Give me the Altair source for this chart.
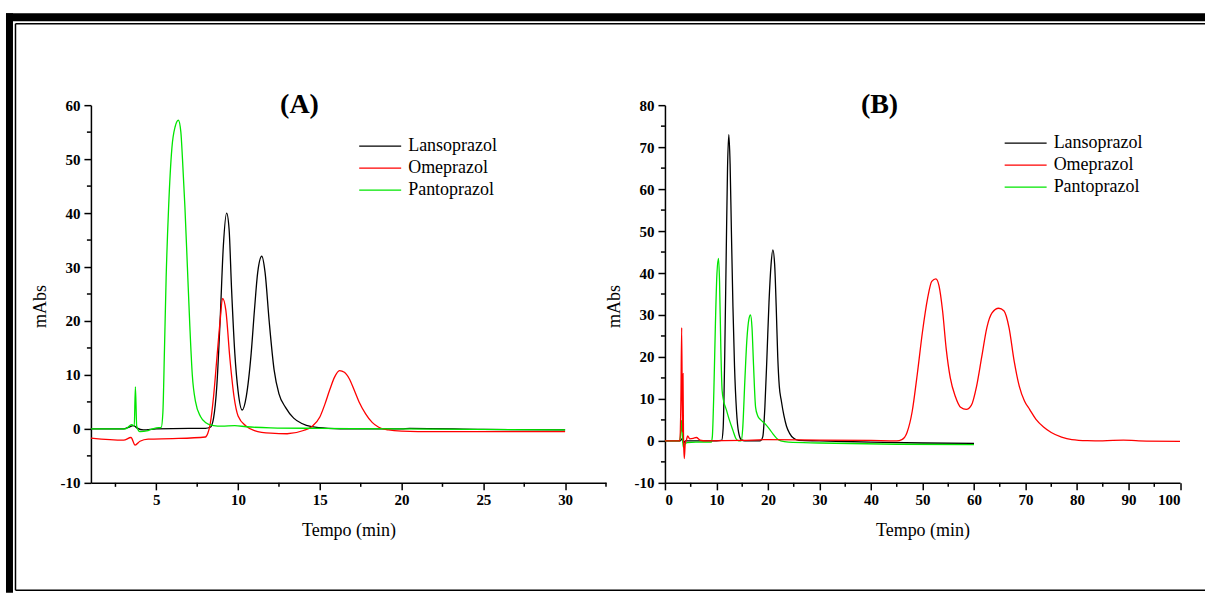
import altair as alt
import pandas as pd

SERIES = ["Lansoprazol", "Omeprazol", "Pantoprazol"]
COLORS = ["#000000", "#ff0000", "#00e600"]

# ---------------- Panel A (0-32.5 min) ----------------
A_lanso_t = [1, 3, 3.3, 3.6, 3.8, 4.2, 5, 7, 8, 8.3, 8.5, 8.7, 8.9, 9.1, 9.3, 9.45, 9.6, 9.8, 10.0, 10.25,
             10.5, 10.8, 11.0, 11.2, 11.45, 11.65, 11.9, 12.2, 12.5, 12.9, 13.4, 13.9, 14.5, 15.5, 17, 20, 20.5, 25, 30]
A_lanso_v = [0, 0, 0.3, 0.6, 0.2, -0.2, 0, 0.1, 0.1, 0.3, 2, 8, 20, 34, 40, 37, 26, 14, 7, 3.5,
             6, 14, 22, 29, 32, 29, 20, 11, 6.5, 4, 2, 1, 0.4, 0.1, 0, 0, 0.1, -0.1, -0.2]

A_ome_t = [1, 3, 3.45, 3.7, 4.0, 4.5, 6, 8.0, 8.15, 8.3, 8.5, 8.7, 8.9, 9.05, 9.25, 9.5, 9.75, 10.0, 10.5, 11, 12, 13,
           14.0, 14.5, 15.0, 15.3, 15.6, 15.9, 16.2, 16.5, 16.8, 17.1, 17.4, 17.8, 18.2, 18.6, 19.2, 20, 22, 30]
A_ome_v = [-1.7, -2.1, -1.6, -3.0, -2.3, -1.9, -1.8, -1.5, -0.8, 1, 6, 13, 20, 24.2, 22, 13, 6, 2.4, 0.5, -0.3, -0.8, -0.9,
           -0.3, 0.4, 2.2, 4.5, 7.2, 9.6, 10.8, 10.5, 9.3, 7.2, 5, 2.8, 1.2, 0.3, -0.2, -0.4, -0.5, -0.5]

A_panto_t = [1, 3.1, 3.5, 3.65, 3.72, 3.8, 4.0, 4.5, 5, 5.3, 5.4, 5.5, 5.6, 5.75, 5.95, 6.15, 6.35, 6.5, 6.6, 6.75,
             6.9, 7.05, 7.2, 7.4, 7.7, 8.0, 8.5, 9, 9.8, 10.5, 12, 15, 20, 30]
A_panto_v = [0, 0, 0.8, 0.5, 7.8, 0.5, -0.5, -0.3, 0.2, 0.3, 3, 15, 28, 41, 52, 56, 57.2, 55, 50, 41,
             30, 19, 10, 5, 2.3, 1.2, 0.6, 0.5, 0.6, 0.4, 0.2, 0.1, 0, -0.2]

# ---------------- Panel B (0-100 min) ----------------
B_lanso_t = [0, 3, 3.3, 3.6, 4, 10, 11, 11.3, 11.6, 11.9, 12.15, 12.4, 12.65, 12.9, 13.2, 13.5, 13.9, 14.3, 14.8, 15.5,
             18.5, 19, 19.4, 19.8, 20.2, 20.6, 20.95, 21.3, 21.6, 21.9, 22.2, 22.6, 23.1, 23.6, 24.2, 25, 26, 30, 40, 50, 60]
B_lanso_v = [0, 0, 0.5, -0.5, 0, 0, 0.1, 3, 20, 45, 65, 73, 66, 50, 32, 18, 7, 2, 0.3, 0,
             0, 1, 8, 20, 33, 42, 45.5, 42, 32, 20, 13, 9.5, 6, 3.5, 1.8, 0.6, 0.1, 0, -0.3, -0.5, -0.6]

B_panto_t = [0, 2.8, 3.0, 3.2, 3.35, 3.55, 3.8, 4.3, 6, 9, 9.2, 9.5, 9.8, 10.1, 10.4, 10.6, 10.85, 11.1, 11.4, 11.9,
             12.5, 13.2, 13.8, 14.3, 14.8, 15.1, 15.5, 15.9, 16.3, 16.6, 16.9, 17.2, 17.6, 18.0, 18.6, 19.5, 20.3,
             21, 21.7, 22.5, 24, 30, 45, 60]
B_panto_v = [0, 0, 1, 4.9, 2, -1.5, -0.8, -0.4, -0.3, -0.3, 1, 12, 28, 40, 43.5, 38, 22, 12, 9.5, 7.5,
             5, 2.5, 0.5, 0, 0, 3, 14, 24, 29, 30, 27, 18, 8, 6, 5, 4, 2.8,
             1.6, 0.6, 0, -0.3, -0.5, -0.8, -0.9]

B_ome_t = [0, 2.9, 3.1, 3.25, 3.4, 3.5, 3.6, 3.75, 3.95, 4.2, 4.4, 4.8, 5.5, 6.1, 6.8, 8, 15, 20, 30, 40, 45,
           46, 47, 48, 49, 50, 51, 51.8, 52.6, 53.2, 53.9, 54.6, 55.4, 56.4, 57.4, 58.5, 59.5, 60.5, 61.5, 62.5,
           63.5, 64.8, 65.8, 66.8, 67.8, 68.8, 69.8, 70.8, 72, 73.5, 75, 77, 79, 82, 85, 89, 92, 100]
B_ome_v = [0, 0, 10, 27, 2, 16, 1, -4.2, -0.5, 0.3, 1.2, 0.5, 0.6, 0.8, 0.2, 0, 0.1, 0.3, 0.2, 0.1, 0,
           0.3, 2, 7, 16, 26, 34, 38, 38.6, 37, 31, 22, 15, 10.5, 8, 7.5, 8.5, 13, 20, 27,
           30.5, 31.6, 31, 27, 19, 13, 9.5, 7.5, 5.2, 3.3, 2, 0.9, 0.3, 0.05, 0, 0.2, 0, -0.1]

A_x_major = [5, 10, 15, 20, 25, 30]
A_x_minor = [2.5, 7.5, 12.5, 17.5, 22.5, 27.5, 32.5]
A_y_major = [-10, 0, 10, 20, 30, 40, 50, 60]
A_y_minor = [-5, 5, 15, 25, 35, 45, 55]
B_x_major = [0, 10, 20, 30, 40, 50, 60, 70, 80, 90, 100]
B_x_minor = [5, 15, 25, 35, 45, 55, 65, 75, 85, 95]
B_y_major = [-10, 0, 10, 20, 30, 40, 50, 60, 70, 80]
B_y_minor = [-5, 5, 15, 25, 35, 45, 55, 65, 75]

FONT = "Liberation Serif"
W, H = 515.5, 378


def frame_df(pairs):
    rows = []
    for i, (name, ts, vs) in enumerate(pairs):
        for t, v in zip(ts, vs):
            rows.append({"series": name, "t": t, "v": v, "o": i})
    return pd.DataFrame(rows)


def make_axis(values, title, orient):
    common = dict(values=values, labelExpr="'' + datum.value", labelFont=FONT, labelFontWeight="bold",
                  labelFontSize=15, labelColor="black", tickSize=7, tickWidth=1.5, tickColor="black",
                  domainColor="black", domainWidth=1.5, grid=False, title=title, titleFont=FONT,
                  titleFontWeight="normal", titleFontSize=18, titleColor="black", titleBaseline="alphabetic")
    if orient == "bottom":
        return alt.Axis(labelPadding=3, titleX=W / 2, titleY=53, **common)
    return alt.Axis(labelPadding=4, titleX=-45, titleY=201, **common)


def panel(df, xdom, ydom, xmaj, xmin, ymaj, ymin, title, tdx, tdy, leg_x, leg_y, order_series, frame=False):
    xs = alt.Scale(domain=xdom, nice=False, zero=False)
    ys = alt.Scale(domain=ydom, nice=False, zero=False)
    ax = make_axis(xmaj, "Tempo (min)", "bottom")
    ay = make_axis(ymaj, "mAbs", "left")
    layers = []
    if frame:
        one = alt.Data(values=[{"k": 1}])
        rects = [(-85, -78, -92, 488), (-85, 1115, -92, -84)]
        for x1, x2, y1, y2 in rects:
            layers.append(alt.Chart(one).mark_rect(color="black").encode(
                x=alt.value(x1), x2=alt.value(x2), y=alt.value(y1), y2=alt.value(y2)))
        rules = [(-75.5, 1115, -81.5, -81.5), (-75.5, -75.5, -81.5, 485.5), (-75.5, 1115, 485.5, 485.5)]
        for x1, x2, y1, y2 in rules:
            layers.append(alt.Chart(one).mark_rule(color="black", strokeWidth=1.5).encode(
                x=alt.value(x1), x2=alt.value(x2), y=alt.value(y1), y2=alt.value(y2)))
    color = alt.Color("series:N", scale=alt.Scale(domain=SERIES, range=COLORS),
                      legend=alt.Legend(title=None, orient="none", legendX=leg_x, legendY=leg_y,
                                        symbolType="M-2,0H2", symbolSize=441, symbolStrokeWidth=1.3,
                                        labelFont=FONT, labelFontSize=18, labelColor="black",
                                        rowPadding=1, labelOffset=16.5, labelLimit=300))
    for name in order_series:
        sub = df[df["series"] == name]
        layers.append(alt.Chart(sub).mark_line(strokeWidth=1.3, interpolate="monotone").encode(
            x=alt.X("t:Q", scale=xs, axis=ax),
            y=alt.Y("v:Q", scale=ys, axis=ay),
            color=color,
            order="t:Q"))
    mx = pd.DataFrame({"t": xmin})
    layers.append(alt.Chart(mx).mark_rule(color="black", strokeWidth=1.5).encode(
        x=alt.X("t:Q", scale=xs, axis=ax), y=alt.value(H), y2=alt.value(H + 4)))
    my = pd.DataFrame({"v": ymin})
    layers.append(alt.Chart(my).mark_rule(color="black", strokeWidth=1.5).encode(
        y=alt.Y("v:Q", scale=ys, axis=ay), x=alt.value(0), x2=alt.value(-4)))
    return alt.layer(*layers).properties(
        width=W, height=H,
        title=alt.TitleParams(title, font=FONT, fontSize=28, fontWeight="bold", color="black",
                              anchor="middle", dx=tdx, frame="group", baseline="alphabetic",
                              offset=0, dy=tdy))


dfA = frame_df([("Lansoprazol", A_lanso_t, A_lanso_v), ("Omeprazol", A_ome_t, A_ome_v),
                ("Pantoprazol", A_panto_t, A_panto_v)])
dfB = frame_df([("Lansoprazol", B_lanso_t, B_lanso_v), ("Omeprazol", B_ome_t, B_ome_v),
                ("Pantoprazol", B_panto_t, B_panto_v)])

pA = panel(dfA, [1, 32.5], [-10, 60], A_x_major, A_x_minor, A_y_major, A_y_minor, "(A)", -49, 128,
           278, 29.5, ["Lansoprazol", "Omeprazol", "Pantoprazol"], frame=True)
pB = panel(dfB, [0, 100], [-10, 80], B_x_major, B_x_minor, B_y_major, B_y_minor, "(B)", -43, 43,
           349.5, 26.5, ["Lansoprazol", "Pantoprazol", "Omeprazol"])

chart = alt.hconcat(pA, pB, spacing=58.5, bounds="flush").resolve_scale(color="independent").configure_view(
    stroke=None).properties(padding={"left": 6, "top": 13, "right": 0, "bottom": 0}, background="white")

chart.save("out.html", embed_options={"renderer": "svg", "actions": False})
